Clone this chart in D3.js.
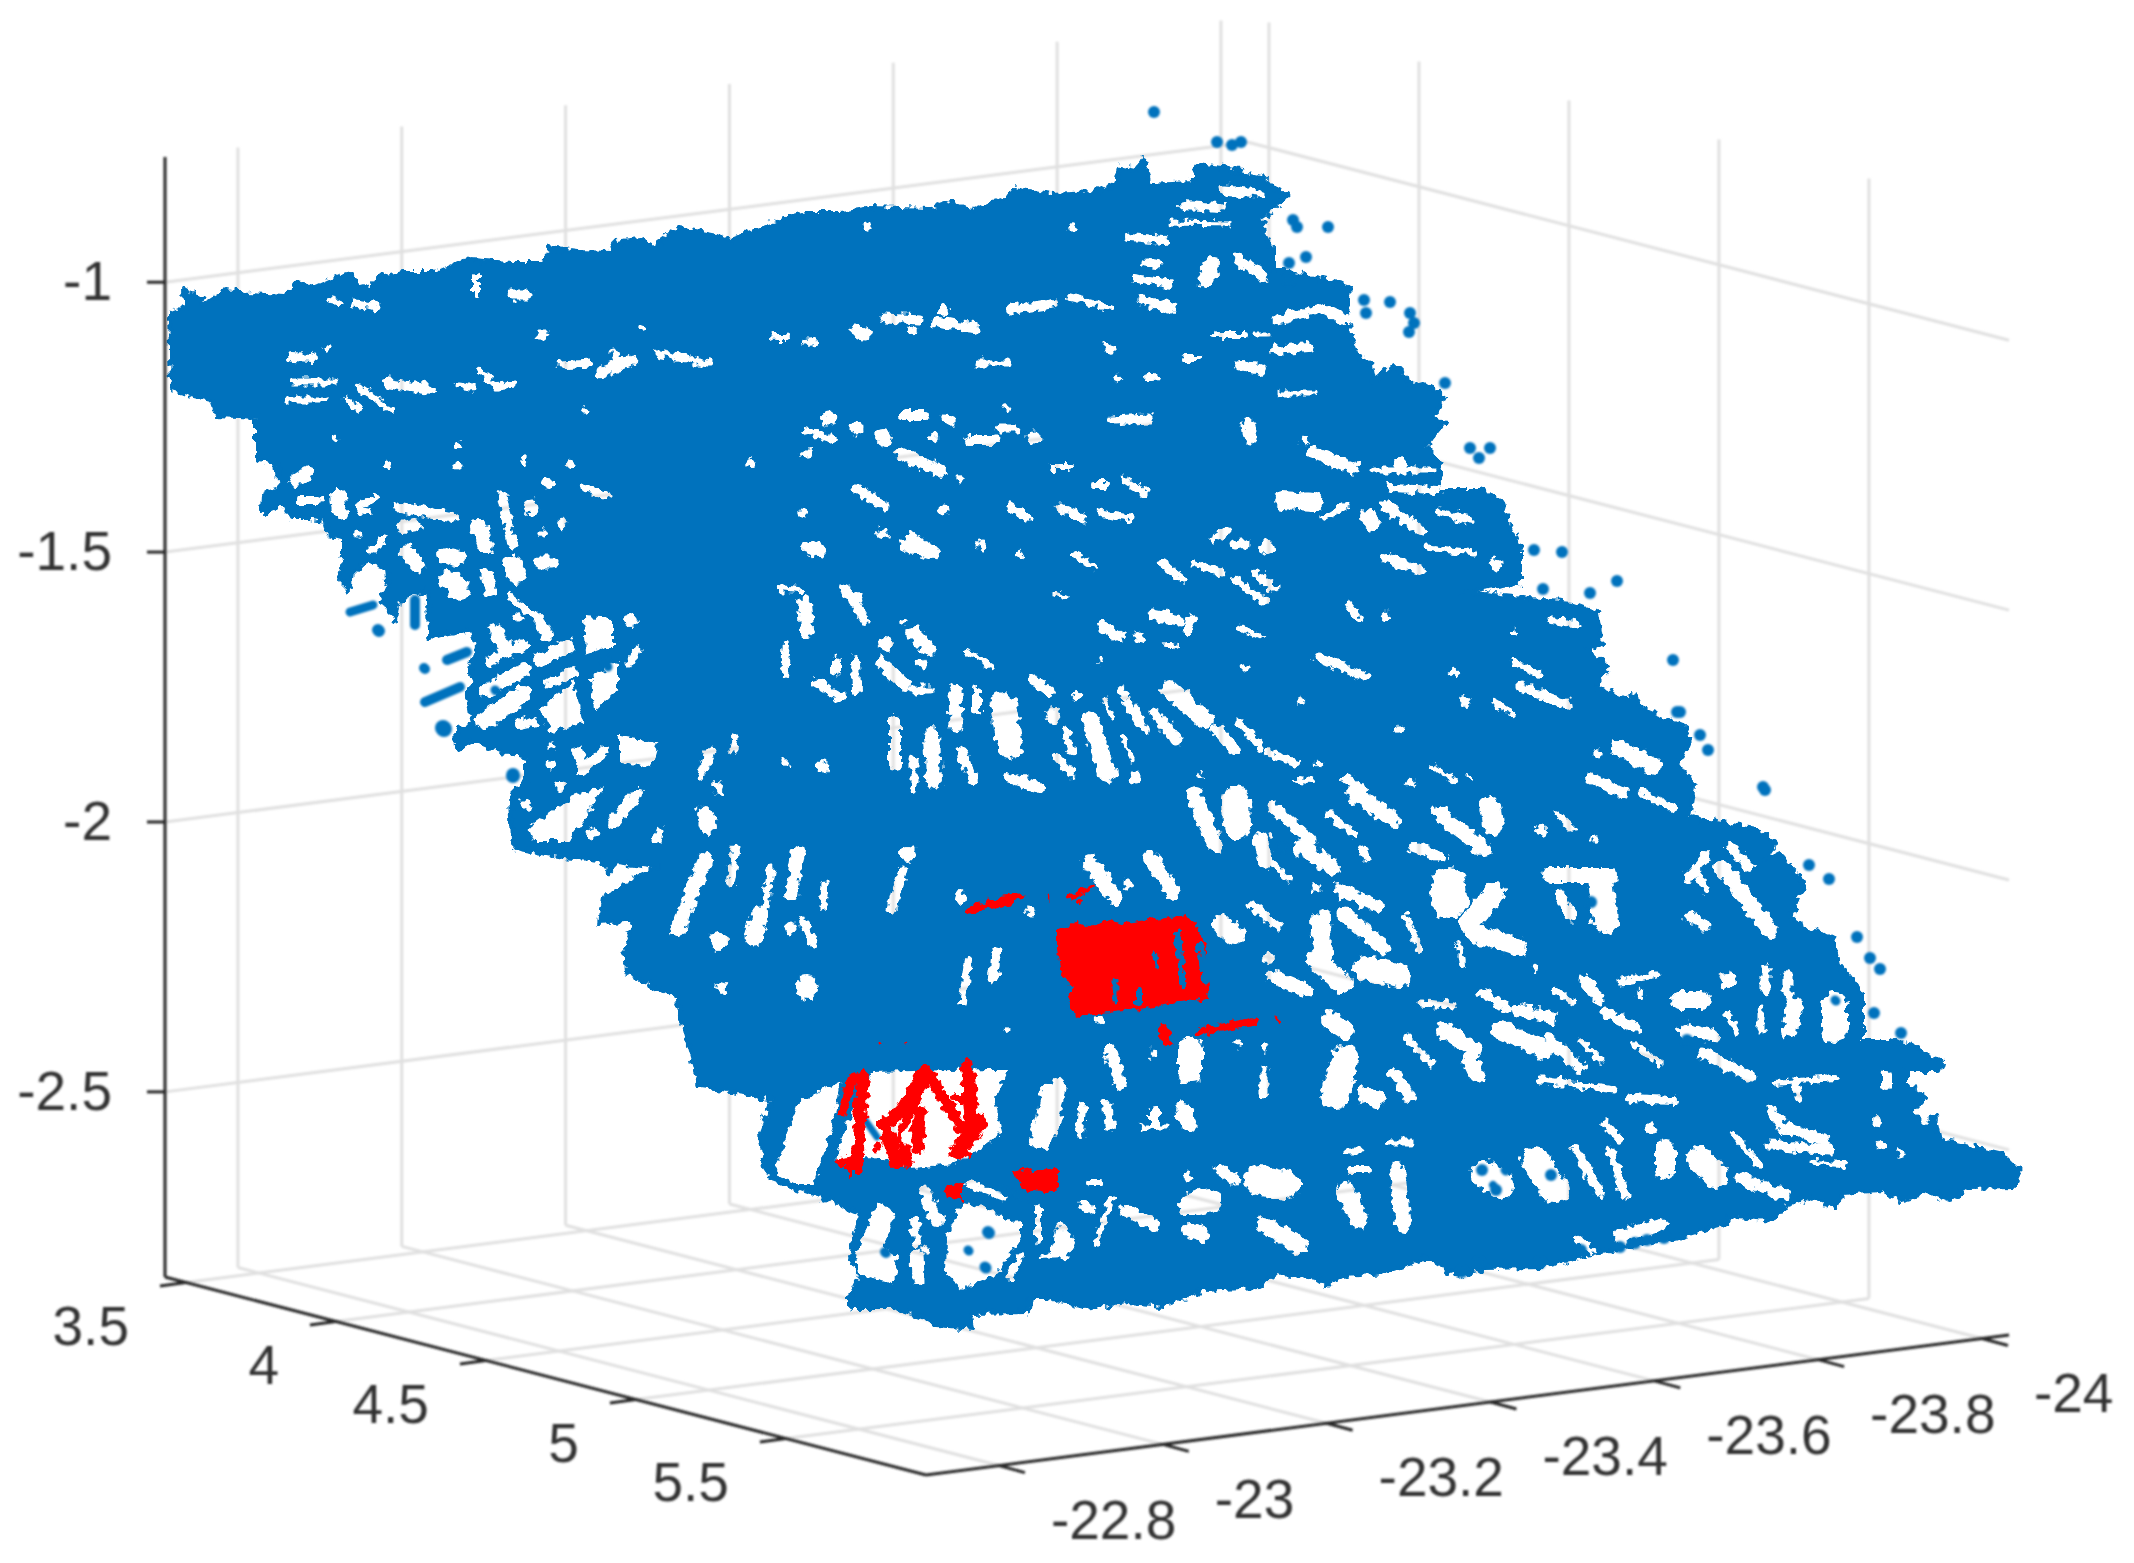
<!DOCTYPE html>
<html>
<head>
<meta charset="utf-8">
<script src="https://cdn.jsdelivr.net/npm/d3@7"></script>
<style>
  html, body { margin: 0; padding: 0; background: #fff; }
  text { font-family: "Liberation Sans", Arial, sans-serif; font-size: 55px; fill: #333; }
</style>
</head>
<body>
<div id="chart"></div>
<script>
// axis values
const xLim = [-22.711, -24.033];
const yLim = [3.43, 5.967];
const zLim = [-2.843, -0.768];
const xTicks = [-22.8, -23, -23.2, -23.4, -23.6, -23.8, -24];
const yTicks = [3.5, 4, 4.5, 5, 5.5];
const zTicks = [-1, -1.5, -2, -2.5];

// The cloud in the projected view plane (one unit = ten reference pixels).
// silhouette of the blue points
const cloudOutline = [
  [18.5,29],[20.6,30.3],[22.6,29],[25,29.5],[28.4,29.7],[29.7,28.2],[31.5,28.7],[34.6,27.3],[36.9,29],[37.8,27.7],
  [40.4,27.3],[43.6,27.3],[45.8,26.3],[47.1,26],[51.2,26.3],[54.3,26.3],[55,24.8],[57.9,25.2],[61,25.3],[61.4,24.3],
  [63.9,24],[65.2,24.7],[67.9,22.8],[71.7,23.5],[73,24],[76.4,22.7],[78.8,21.8],[80.6,21.3],[84,21.3],[87.1,20.8],
  [92.9,21],[95.2,20.2],[97.2,21],[99.2,20.2],[101,19.7],[101.4,18.8],[105,19.5],[109.5,19.3],[111.7,18.3],[112.1,16.7],
  [113.5,17],[114.4,15.8],[115,18.5],[119.3,18.3],[119.7,16.5],[122.4,16.8],[126.4,17.8],[127.3,18.8],[128.7,19.5],[127.3,21],
  [126.2,21.7],[126.4,23.3],[127.3,25],[127.3,27],[129.5,27.3],[134.9,28.7],[134.7,31.3],[134.9,33.3],[135.8,35.7],[137.1,36.3],
  [137.4,38.3],[139.4,36.5],[140.7,37.7],[140.9,38.7],[142.3,38.3],[144.5,39.7],[143.4,41.7],[144.5,42.2],[142.5,44.7],[144.1,46.3],
  [143.8,49],[147.9,49],[150,50],[151,52.7],[152,55],[152,58.3],[146.4,59.2],[157.1,60.3],[159.7,61.3],[160.2,64.3],
  [158.7,64.8],[160.7,66.7],[159.7,68.7],[162.8,70],[163.3,69.3],[164.3,71],[168.4,72.7],[168.9,74],[167.9,76.3],[169.4,78.7],
  [168.9,81.7],[176,83],[177.6,84.3],[176.5,86],[178,85.3],[180.4,88.3],[179,91.7],[180.7,93],[183.3,93.8],[183.8,96.3],
  [186.2,99.3],[186.2,104],[188.9,104],[191.6,104.7],[194.2,106.3],[194,107],[190.6,107],[190.6,108.3],[192.5,109.8],[191.1,111.3],
  [192.5,112.7],[193.5,111.7],[194,114],[200.3,115.5],[202,117.2],[201.3,118.7],[196.9,118.8],[195,120],[193,119.2],[190.1,120],
  [188.2,119],[184.3,119.3],[183.6,120.7],[180.9,119.7],[178.5,120.5],[177.3,122],[173.1,121.5],[172.7,122.3],[167.8,123.7],[161,125],
  [158.6,125.5],[154.2,126.7],[148.4,126.8],[146,127.7],[142.6,125.7],[138.7,127.2],[134.4,127.5],[132.7,128.5],[131.6,127.8],[127.6,127.3],
  [125.8,128.7],[120.4,129],[116.4,130.5],[112.9,130.2],[108.4,130.7],[104.8,129.7],[103,129.7],[102.7,131.2],[97,131.3],[97.3,132.8],
  [93.7,132.5],[92.3,131.7],[89.3,130.7],[85,130.7],[85,129.7],[86,127.7],[85,125.7],[86,121.3],[83,120],[77.3,118],
  [76.5,116.7],[76,113.3],[77.3,110],[74.5,109.3],[70,108.7],[67.6,100],[67.6,99.7],[62.7,97.3],
  [62.5,94.7],[63.6,92],[60,92.3],[60.4,89.7],[65.8,86.7],[61.8,86.2],[60.9,87.2],[60,86],[56.4,85.7],[51.5,84.8],
  [51.2,84],[51,79.7],[52.7,78],[52.7,75.7],[49.7,75],[47.3,74],[45.8,75],[45.7,73],[47.3,72.5],[47,70.7],
  [46.7,69.7],[47.5,68],[47,67.3],[47.7,64.7],[47.3,63],[43,63.7],[43,62.7],[42.7,59],[39.8,60],[39.5,62],
  [38.2,59.7],[38.8,58.3],[38.7,56.7],[36.7,56],[35.3,57.3],[35,59],[34,58],[34.3,55.7],[34.3,53.7],[32.7,53.3],
  [32.5,52],[31,51.8],[29,51.8],[28.3,50.3],[26.2,51.2],[26.3,49.5],[28,49],[27.7,46.3],[25.7,46],
  [25.7,41.7],[21.7,41.5],[21.2,40],[17.2,39],[17,31.3],[18.6,30.7]
];
// large holes in the cloud, as outlines
const cloudHoles = [
  [[57.3,68.3],[54,71],[55.2,73],[58.2,72.2]],
  [[58.5,61.8],[61.2,62],[61.2,64.7],[60.3,64.7],[58.7,65.3]],
  [[61.7,66.2],[61.7,69],[59.5,71],[59.2,68]],
  [[62,73.7],[65.7,74.3],[65,76.7],[62,76]],
  [[60.2,78.8],[57.3,79.7],[53,82.7],[53.5,84],[56.8,84],[58.7,81.3]],
  [[80,110.3],[84,108.3],[83,113],[81.3,118.3],[79.3,118.3],[77.7,117.3],[77.8,116.3]],
  [[87.3,107.3],[99,107],[100.7,107],[99.3,110],[100,113.3],[97.7,115],[95.3,116.3],[91.3,116.7],[87,115.7],[84,116.3],[83.8,115.3],[84.7,112.7],[85.7,110.7]],
  [[96.3,120.3],[99,121],[101,122.3],[102,122.2],[102,123.7],[101,125.3],[99.7,127.3],[96.3,128.8],[94.7,127.3],[94.8,123.7]],
  [[87.7,120.3],[89.3,121.2],[88.7,123.3],[88.3,124.7],[89.7,125.7],[89.3,128.3],[86,127.3],[85.7,125.7]],
  [[106,122.3],[107.5,124.3],[106.7,125.7],[103.7,125.8],[105,125.3]],
  [[106,107.8],[106.5,108.3],[105.7,113.3],[104.7,114.7],[103,114.5],[104.3,108.7]]
];
// gaps in the cloud: from x, from y, to x, to y, width
const cloudGaps = [
  [35.5,30.3,37.8,30.7,.5],[47.6,27.7,47.6,29.5,.4],[51.2,29.5,52.8,29.5,.7],[32.9,30,33.8,30.2,.4],[29.3,35.7,31.3,35.8,.8],[32.6,34.7,32.7,34.8,.5],
  [29.3,38.2,33.3,38.2,.5],[28.8,40,32.4,40,.5],[35.8,38.7,39.1,41,.4],[34.6,40,36,41,.4],[38.7,38.3,43.1,39,.8],[45.8,38.5,47.1,38.7,.5],
  [48,37.2,49.8,38.7,.4],[49.8,38.7,51.4,38.5,.5],[56.1,36.5,59,36.3,.5],[60.1,37.3,63.2,36,.9],[61.5,35.3,62,36.7,.7],[65.9,35.3,70.8,36.3,.5],
  [77.5,33.8,78.5,33.8,.6],[80.6,34.2,81.5,34.1,.4],[54,33.5,54.5,33.5,.5],[64.3,32.7,64.4,32.8,.5],[82.9,41.8,82.9,41.9,1.3],[80.6,43,83.3,44,.4],
  [81.1,54.8,81.8,55,1.4],[80.2,51.3,80.3,51.4,.5],[75,46,75.2,46.6,.4],[80.2,45.5,81,45.3,.4],[29.5,48,30.8,47.2,1],
  [33.8,49.5,34,51.2,1.4],[35.8,50.7,37.5,49.7,.4],[36,51,37,51.2,.4],[30,50,31.8,50,.6],[40,50.7,45.2,51.7,.8],[40.3,52.7,41.5,52.5,1],
  [47.8,52.7,48.5,54.5,1.4],[50.2,49.5,51.2,54.5,.7],[53.2,50.7,53.3,50.8,1.3],[54.8,48.3,54.9,48.4,.8],[58.3,48.8,60.8,49.5,.5],[56.2,52.3,56.3,52.4,.6],
  [54.2,53.2,54.3,53.3,.5],[54,56.3,55.2,56.3,1.1],[51.3,56.6,51.7,57.4,1.8],[48.7,57.5,49,59,1.1],[44.5,55.5,45.8,55.8,1.4],[44.8,58,46,59,1.8],
  [40.7,55.2,41.7,56.5,1.3],[37.2,55,38.5,53.7,.5],[35.8,53.3,35.9,53.4,.5],[51,59.7,54,62,.4],[54,62,54.7,63.5,1],[51.7,61.7,51.8,61.8,.5],
  [49.5,63,50.5,65,1.2],[49,66,52.3,64.5,.9],[48.7,69,52.3,67,1.2],[48.5,72,52.2,69.5,1.6],[54,66,56.8,64.5,1.2],[55,68.3,57.3,67.2,.8],
  [63.7,65,63,66.3,.7],[63,62,63.1,62.1,1],[52,72.5,53.3,72.2,.8],[57.7,75.2,58.1,76.2,1],[55.2,74.5,55.3,74.6,.5],[55,76.5,55.1,76.6,.7],
  [58.3,77,60.5,75,.8],[56,78.5,56.1,78.6,.8],[52.5,80.3,52.6,80.4,.8],[63.7,79.3,61.3,82.3,1],[59.3,83.3,59.4,83.4,.9],
  [70.5,81.5,70.8,82.5,1.6],[66,83,65.7,84,.5],[71.8,78.7,71.9,78.8,1],
  [71.1,75,70,77.7,.7],[80.5,60.3,80.7,63,1.2],[84.5,58.8,86.5,62,.8],[77.8,58.8,80,59,.4],[78.7,64.3,78.4,67.5,.4],[81.6,68.3,84,69.7,.8],
  [85.6,66,85.7,69,.6],[83.6,66,83.6,67.2,.6],[88.1,66.3,90.5,68.5,1],[91.3,63.3,93,65,1.2],[88.5,64.3,88.6,64.4,1.2],[92.1,66.3,92.2,66.4,.7],
  [91.5,69,93,69,.7],[90.3,62,90.4,62.1,.4],[96.8,65.2,99.2,66.7,.4],[95.5,69,95.6,72.7,1.1],[97.7,69,97.7,71,.6],[100.3,70.5,101,74.5,2.4],
  [89.5,72,89.5,76.5,1],[93.2,73.5,93.4,78,1.4],[91.4,76,91.4,79,.5],[96.1,75,97.3,78,.8],[101,77.7,103.7,78.7,.8],[82.3,76.7,82.4,76.8,.9],
  [78.5,76.3,78.6,76.4,.5],[73.5,73.7,73.3,75,.5],[90.8,85.3,90.9,85.4,1.4],[79.8,85,79.2,89.5,1],[73.5,85,73.1,88.3,.6],[70.5,86,67.7,93,1.2],
  [82.5,88.3,82.3,90.7,.5],[90.3,87,89.2,91,.7],[76,91.3,75.4,93.7,1.5],[77.1,86.7,76.5,90.7,.5],[79,92.7,79.1,92.8,.9],[80.3,92.3,81.4,94.3,.7],
  [71.8,94,71.9,94.1,1.6],[95.9,89.7,96,89.8,1],[80.7,98.7,80.8,98.8,2],[72,98.7,72.1,98.8,1],[96.8,96,96.3,100,.6],[99.7,95,99.3,98,.7],
  [94.3,51,94.4,51.1,.8],[88.1,53.3,88.2,53.4,.8],[91.2,53.8,93.4,55.3,1],[98.1,54.5,98.2,54.6,.7],[101.9,55.3,102,55.4,.6],[101.9,51.3,102,51.4,.6],
  [86.7,22.7,86.8,22.8,.5],[118.3,20.5,122,20.7,.8],[122.4,19,125.9,19.3,.7],[117,22.3,123,22.4,.3],[107.2,22.7,107.3,22.8,.5],[113,23.7,116.5,24,.6],
  [121.2,26.5,120.5,28,1.4],[123.9,26,126.2,27.5,.9],[113.5,27.8,117,28.3,.6],[114.5,26.3,116,26.5,.5],[127.7,32,132.2,30.8,.7],[132.2,30.8,134.5,32,.8],
  [127.5,35,130.8,34.7,.8],[114.3,30,117,30.8,.9],[106.8,29.7,111.2,30.8,.4],[101,31,105.4,30.3,.6],[93.8,32.3,97.4,32.7,.8],[88.5,31.8,92,32,.7],
  [91.2,33,91.3,33.1,.6],[85.5,33,86.5,33.5,.9],[94.3,31,94.4,31.1,.8],[97.8,36.3,100.7,36.3,.5],[110.6,34.7,111.2,35,.5],[118.5,35.8,120,35.8,.4],
  [121.5,33.5,124.5,33.5,.4],[125.5,33.5,126.8,33.5,.3],[124,36.5,126.2,37,.8],[114.8,37.7,115.5,37.7,.6],[111.7,37.8,111.8,37.9,.6],[128,39.3,131.5,39.3,.3],
  [85.6,42.8,85.7,42.9,1.1],[88.3,43.7,88.4,43.8,1.4],[90.5,41.5,92.5,41.5,.8],[94.5,41.8,95.2,42.2,.5],[97,44,99.4,44,.8],[100,42.8,101.5,42.8,.7],
  [103.4,43.7,103.5,43.8,1.1],[93.4,43.8,93.5,43.9,.6],[100.7,40.8,100.8,40.9,.5],[111.2,42,114.8,41.8,.7],[124.8,42.5,125,43.8,1.1],[130.4,44,130.5,44.1,.6],
  [131.3,45.3,135.3,46.8,1.1],[137.3,47,143.3,47,.5],[140,46.3,140.1,46.4,1],[139.1,48.8,143.8,49,.6],[128.2,50,131.5,50.2,1.6],[136.8,51.8,137.2,52.2,1.4],
  [132.6,51.7,134.6,50.5,.5],[138.5,50.5,142,53,.8],[144,51.2,147,52,.7],[138.5,55.7,142,57,.8],[142.7,54.7,147.5,55.3,.5],[149.5,56.3,149.6,56.4,1.1],
  [90,45.3,94,47.2,1],[96,47.8,96.1,47.9,.5],[85.6,48.8,88.5,50.7,.7],[94.3,51,94.4,51.1,.9],[101,50.7,102.8,51.7,.5],[106,50.8,108.2,51.8,.7],
  [110,51.3,113,51.8,.5],[109.5,48.5,110.5,48.5,.6],[112.5,48,114.5,49.3,.5],[105.2,46.7,107,46.7,.4],[121.2,54,122.8,53,.5],[123.5,54.5,124.5,54.3,.7],
  [126.6,54.7,126.7,54.8,1.2],[88.3,53.3,88.4,53.4,.8],[90.5,54.5,93,55.3,1],[107.5,55.5,109.5,56.7,.4],[116.1,56.3,118.4,58,.5],[119.5,56.3,122.2,57.3,.5],
  [125.5,57.3,127.3,58.8,.7],[123.5,58,125.5,59.7,.3],[105.5,59.3,106.5,59.7,.3],[85,59.3,86,59.7,.5],[123.5,58,126.8,60.3,.4],[115.3,61.5,117.8,62,.9],
  [119.1,62,118.7,63,.8],[110.2,62.5,112,63.7,.8],[113.8,63.8,113.9,63.9,.8],[116.5,64.5,117.5,64.5,.4],[124,62.7,126,63.7,.4],[134.7,60.3,136,62,.4],
  [138.5,61.7,138.6,61.8,.6],[131.9,65.7,136.5,67.7,.7],[124.5,66.7,124.6,66.8,.5],[145.4,67.3,145.5,67.4,.6],[151.3,66.2,154,67.5,.4],[152,68.7,156.9,70.5,.7],
  [146.4,70,146.5,70.1,1],[149.5,70.3,151.2,71.3,.4],[155.1,62,157.6,62.5,.5],[151.5,63.2,151.6,63.3,.4],[117,69,120.5,72,1.6],[105.3,71.5,105.4,71.6,1.4],
  [112.8,70.3,114.5,73,.8],[115.5,71.3,117.6,74,.9],[109,72,110.7,77.3,1.6],[106.5,73,107.1,75,.6],[110.5,70,111.2,71.7,.3],[103.3,68,105,69.2,.7],
  [112.2,69.2,112.3,69.3,1],[107.6,69.5,107.7,69.6,.6],[121.7,73,123.5,75,1],[124,72.3,126,74.7,.5],[126.8,75.3,129.6,76.3,.6],[131.8,76.3,131.9,76.4,.6],
  [161.7,74.7,165.5,76.7,1.4],[159,77.7,162.2,79.3,.8],[164.3,79.3,167.3,80.8,.6],[159.7,75.3,159.8,75.4,.5],[105.6,75.5,107.1,77.3,.6],[112.2,73.7,113.3,76,.3],
  [100.8,77.8,104,78.8,.8],[113.4,77.7,113.5,77.8,.7],[129.8,78,131.1,78.1,.4],[134.5,77.8,136.5,79,.6],[141,78.3,141.1,78.4,.6],[143.3,76.7,145.4,78,.4],
  [147,77.7,147.1,77.8,.3],[135.4,79.3,139.3,82,1.4],[123.6,80,123.7,82.5,2.6],[119.5,79.5,121.5,84.5,1.4],[127.3,80.7,131.1,84,.9],[130.1,84.7,133.2,86.7,1.4],
  [126,84,126.5,86,1.2],[126.5,85.7,129,88,.5],[133,81.5,135.5,83.5,.5],[136.2,84.7,136.7,86,.5],[141.3,84.7,144.4,85.8,.8],[143.9,81.3,148.4,85,1.2],
  [149,80.5,149.3,82.5,1.8],[155.6,81.3,157.4,83,.5],[154,83,154.1,83.1,.8],[159.4,83.8,159.5,83.9,.5],[173,84.7,175,86.7,.8],[168.9,87.7,170.6,85.7,.8],
  [170,87.7,170.5,89,.5],[172.2,86.7,177,93,1.4],[169,91.7,170.5,92.5,.9],[144.8,88.5,144.9,90,3.4],[149.4,89.3,147,92.3,2],[147.5,93.3,151.8,94.7,1.6],
  [155,87.5,161,87.5,1.4],[160,88,160.5,92,2.4],[156,89.5,157,91.5,.9],[133.9,89,137.8,90.7,1],[131.6,88.7,131.7,88.8,.8],[115,85.7,117.3,89.3,1.2],
  [112.8,88.3,112.9,88.4,.7],[109,86.3,111.5,89.7,1.4],[103,91,103.1,91.1,.7],[122.2,92.5,123.4,93.5,1.8],[131.5,92,132,95.5,1],[125.2,90.5,127.8,92.7,.7],
  [127.5,97.7,130.6,99,1.2],[131.6,96,134.2,98.3,1.8],[136.5,96.8,140,97.5,2.2],[126.8,95.7,126.9,95.8,1],[140.5,91.5,142,95,.4],[145.9,94.5,146.2,96.5,.4],
  [153.5,96.7,153.6,96.8,.4],[132.5,91.5,132.6,95.6,1],[134.5,91.5,138.3,94.7,1.3],[172.7,98,172.8,98.1,1.4],[176.6,97,176.6,99,.7],[178.8,97.5,178.8,99.5,.7],
  [168,100,170.2,100,1.6],[168.5,103,171.2,103.5,1.2],[179.5,100.5,179,103,1.4],[183.5,100.5,183.5,103,2.4],[172.7,101.3,173.7,103.3,.5],[176.1,101,176.1,103,.5],
  [162,98.2,165.6,97.5,.5],[164,99.5,164.1,99.6,.6],[158.4,98,160,100,.9],[160.6,101.3,163.5,102.7,.9],[155.7,99,157.2,100.3,.4],[148.2,99.3,150.6,100.7,.8],
  [151.6,101,155.2,101.7,1],[142.1,100.3,145.3,100.5,.5],[150,103,154.5,105,1.6],[155,104,158,106.7,1],[158.1,104,160,106,.5],[163.5,104.5,166,106.3,.5],
  [170.3,105.3,175.1,107.7,.9],[144.5,103,147.5,105,1.4],[147,106,147.7,107.5,1.4],[139.5,107.3,141,109.7,1],[136.6,109.5,137.8,110,1.4],[134.5,106,133.5,109.5,2.6],
  [133,102,134.5,103,1.6],[140.5,103.7,143.1,106.3,.5],[154.2,108,161.5,109,.5],[163,109.8,167.3,110,.6],[177.5,108.3,183.5,107.8,.4],[179.5,108.5,180,110,.5],
  [177,111,178.5,113,.8],[178.5,112.8,182.5,114,1],[187.7,112,187.8,112.1,.8],[188.7,107.5,188.7,108.5,.8],[165,112.8,165.1,112.9,.7],[160.6,112.3,162,114,.5],
  [166.5,115,166.5,117,1.8],[170,116,171.5,117.5,2.4],[161,115,162.5,119.5,.7],[157.6,115,160,119.3,.8],[153.5,116,155.5,119,2.6],[148.5,117.5,150,118.5,2.6],
  [134.5,119,136,122,1.6],[139.7,117,140.3,122.5,1.4],[135,115,136,115,.5],[135,117,136.8,117,.6],[139,114.3,141,114.3,.5],[173.2,113.3,176,116.5,.4],
  [190,115.2,190.1,115.3,.5],[188,114.5,188.1,114.6,.6],[174,117.8,178.5,119.5,.9],[177,114.5,183,115,.7],[181,116.2,184.5,116.5,.3],[158,124,159,125,.6],
  [162,123.7,166,122.5,1.2],[122.1,117,123.5,118,.9],[118.8,117.7,118.9,117.8,.7],[126,118,128.5,118.5,2.8],[119,120.5,121,120,2.2],[119,123,120.5,123.5,1.2],
  [126.5,122.5,130,124.5,1.6],[112.4,121,115.5,122.5,1],[108.3,120.5,109,121,.7],[109,118.2,110,118.2,.4],[111.2,119.8,109.7,124.3,.4],[102,125.7,101,127.7,.5],
  [103.8,120.7,103.8,124,.4],[96.7,118.3,100.3,119.7,.5],[92.5,119.2,93.7,122,1],[91.5,122,91.7,124.3,.6],[91.7,125.5,91.8,128,.9],[92.5,125,92.6,125.1,.5],
  [105.5,108.5,104,114,.2],[111,105,112,108.3,1],[110.7,110.5,111,112.7,.8],[108.2,110.7,108,113.3,.6],[119,105,119,107.2,2.2],[114.3,112.7,116.5,112.7,.3],[115.5,111,115.5,112.5,.8],
  [118.3,111,119,112.5,1.4],[115.3,105.3,115.4,105.4,.6],[126.4,107,126.4,109.3,.5],[126.4,104.7,126.5,104.8,.5],[123.7,104.3,123.8,104.4,.5],
  [33.5,43.8,33.6,43.9,.4],[45.7,44.5,45.8,44.6,.4],[45.7,46.5,45.8,46.6,.5],[38.7,46.5,38.8,46.6,.4],[57,46.5,57.1,46.6,.4],[52.3,46,52.4,46.1,.4],[58.5,41,58.6,41.1,.3],
  [110,102,110.1,102.1,.4],[100.7,103,100.8,103.1,.3],[127,83.5,127.1,83.6,.3],[120,77.5,120.1,77.6,.3],[110,66,110.1,66.1,.4],[130,70,130.1,70.1,.4],[140,73,140.1,73.1,.4]
];
// isolated blue points: view x, view y
const strayX = [115.4,121.7,123.2,124.1,129.3,129.7,132.8,130.6,128.9,128.9,136.4,139,136.6,141,141.4,140.9,144.5,147,149,147.9,153.4,156.2,161.7,154.3,159,167.3,167.7,168,170,170.8,176.3,176.5,180.9,182.9,185.7,187,188,187.4,190.1,146.2,147.9,154,158.1,162,163.5,164.7,166.4,159.1,155.1,148.2,149.6,168.7];
const strayY = [11.2,14.2,14.5,14.2,22,22.7,22.7,25.7,26.3,28,30,30.2,31.3,31.3,32.3,33.2,38.3,44.8,44.8,45.8,55,55.2,58.1,58.9,59.3,66,71.2,71.2,73.5,75,78.7,79,86.5,87.9,93.7,95.8,96.9,101.3,103.3,127.2,126.3,126.3,125,124.7,124.3,124,123.8,90.2,117.5,117,119,104];
// short blue runs of points, on top of the holes: from x, from y, to x, to y, width
const blueStrands = [
  [35,61.2,37.3,60.5,.9],[37.8,63,37.9,63.1,1.2],[41.5,60,41.5,62.5,1],[44.7,66,46.7,65.2,1],[42.5,70.2,46,68.7,1],[42.4,66.8,42.5,66.9,1],
  [44.3,72.8,44.4,72.9,1.6],[51.3,77.5,51.3,77.6,1.4],[49.5,69,49.6,69.1,.9],[60.3,65.5,60.8,66.7,.9],[86.5,112,87.7,113.7,.7],
  [98.8,123.2,98.9,123.3,1.2],[96.8,125,96.9,125.1,.9],[98.5,126.7,98.6,126.8,1.1],[88.5,125.2,88.6,125.3,1],[100,118.9,103.5,120,.6],
  [150.5,117,150.6,117.1,.9],[149.3,118.5,149.4,118.6,.8],[159.1,90.2,159.2,90.3,.9],[168.1,102,168.2,102.1,.8],[183.5,100,183.6,100.1,.9],[128.2,84.7,128.3,84.8,.9]
];
// red points, patches as outlines
const redPatches = [
  [[105.7,93.2],[107.7,92],[108.8,92.7],[111,92],[112.4,92.3],[118.8,91.5],[120.6,94.2],[120.4,96],[120.8,99.8],[114.6,100.8],[107.9,101.7],[106.6,100.7],[107.2,98.7],[106.1,97.3],[105.7,95]],
  [[101.2,117.2],[103,116.8],[103.3,117.2],[104.7,116.7],[105.8,116.8],[105.8,119],[104.5,119.2],[103.5,119],[102.7,119.3],[101.5,118]],
  [[94.3,119.2],[94.7,118.5],[96.3,118.2],[96.3,120],[95,119.7]]
];
// streaks inside the patches where the points thin out
const redGaps = [[117.7,93.3,118.4,98.7,.4],[111.5,98,111.5,100,.3],[113.9,99,113.9,100.3,.4],[120,94.5,120.4,98,.4],[106.2,101,106.8,101.8,1.2],[115.5,95.5,115.6,96.5,.3]];
// red strokes: from x, from y, to x, to y, width
const redStrokes = [
  [97,91,101.5,89.7,.7],[100,89.8,102,89.7,.5],[107,89.7,109.2,88.7,.5],[104.8,89.7,104.9,89.8,.3],[97.2,91,101.2,90.3,.5],[107.9,90.1,108,90.2,.4],
  [120,103.2,125.8,102,.7],[127.8,102,127.9,102.1,.4],[116.4,103,116.7,104.3,1],[88.1,104.3,88.2,104.4,.3],[90.5,104.2,90.6,104.3,.3],
  [86.3,107.5,85.7,116.7,1.2],[85.3,107.8,84.2,111.2,.9],[84,116.2,85.7,116,.8],[85,116.5,85,117.7,.4],[87.7,114.5,87.8,114.6,.9],
  [92.5,107.5,90.5,111,1.8],[93,107.7,96.3,113,1.1],[96.7,106.7,97.2,112.3,1.4],[95.5,109.8,96.2,109.8,.8],[98,112.3,95.7,115.3,1.6],[96.7,115.3,96.8,115.4,.8],
  [91,110.7,88.3,112.3,1.2],[88.3,112.3,89.7,116.3,1.2],[92,111.3,91.7,114.7,1.4],[90.3,114.7,90.8,116.5,1],[90.7,111.7,89.3,115,.8]
];

const width = 2134, height = 1563;

const svg = d3.select("#chart").append("svg")
  .attr("width", width)
  .attr("height", height);

// projected position of a data point in the 3-d box
const alongX = d3.scaleLinear().domain(xLim).range([0, 1083]);
const alongY = d3.scaleLinear().domain(yLim).range([0, 761]);
const upZ = d3.scaleLinear().domain(zLim).range([0, 1120]);

function project(x, y, z) {
  const a = alongX(x), b = alongY(y);
  return [165 + a + b, 1277 - a * 140 / 1083 + b * 198 / 761 - upZ(z)];
}

function seg(g, p, q) {
  g.append("line")
    .attr("x1", p[0]).attr("y1", p[1])
    .attr("x2", q[0]).attr("y2", q[1]);
}

const defs = svg.append("defs");
defs.append("filter").attr("id", "soft")
  .append("feGaussianBlur").attr("stdDeviation", 0.9);

// rough edges for the point cloud
const rough = defs.append("filter").attr("id", "rough")
  .attr("filterUnits", "userSpaceOnUse")
  .attr("x", 0).attr("y", 0).attr("width", width).attr("height", height);
rough.append("feTurbulence")
  .attr("type", "fractalNoise")
  .attr("baseFrequency", 0.14)
  .attr("numOctaves", 2)
  .attr("seed", 4)
  .attr("result", "noise");
rough.append("feDisplacementMap")
  .attr("in", "SourceGraphic")
  .attr("in2", "noise")
  .attr("scale", 11)
  .attr("xChannelSelector", "R")
  .attr("yChannelSelector", "G")
  .attr("result", "moved");
rough.append("feGaussianBlur")
  .attr("in", "moved")
  .attr("stdDeviation", 0.7);

// grid on the back walls and the floor
const grid = svg.append("g")
  .attr("stroke", "#e0e0e0")
  .attr("stroke-width", 3)
  .attr("filter", "url(#soft)");

xTicks.forEach(function (t) {
  seg(grid, project(t, yLim[0], zLim[0]), project(t, yLim[0], zLim[1]));
  seg(grid, project(t, yLim[0], zLim[0]), project(t, yLim[1], zLim[0]));
});
yTicks.forEach(function (t) {
  seg(grid, project(xLim[1], t, zLim[0]), project(xLim[1], t, zLim[1]));
  seg(grid, project(xLim[0], t, zLim[0]), project(xLim[1], t, zLim[0]));
});
zTicks.forEach(function (t) {
  seg(grid, project(xLim[0], yLim[0], t), project(xLim[1], yLim[0], t));
  seg(grid, project(xLim[1], yLim[0], t), project(xLim[1], yLim[1], t));
});

// cloud scales, reference view plane to the page
const viewX = d3.scaleLinear().domain([0, 213.4]).range([0, width]);
const viewY = d3.scaleLinear().domain([0, 156.3]).range([0, height]);
const viewW = d3.scaleLinear().domain([0, 1]).range([0, 10]);
const outline = d3.line().x(d => viewX(d[0])).y(d => viewY(d[1])).curve(d3.curveLinearClosed);

function drawSegs(g, rows, color, extra) {
  g.selectAll("line").data(rows).enter().append("line")
    .attr("x1", d => viewX(d[0])).attr("y1", d => viewY(d[1]))
    .attr("x2", d => viewX(d[2])).attr("y2", d => viewY(d[3]))
    .attr("stroke", color)
    .attr("stroke-linecap", "round")
    .attr("stroke-width", d => viewW(d[4]) + extra);
}

function makeMask(id, gaps, holes) {
  const m = defs.append("mask").attr("id", id)
    .attr("maskUnits", "userSpaceOnUse")
    .attr("x", 0).attr("y", 0).attr("width", width).attr("height", height);
  m.append("rect").attr("width", width).attr("height", height).attr("fill", "#fff");
  m.selectAll("path").data(holes).enter().append("path")
    .attr("d", outline)
    .attr("fill", "#000")
    .attr("stroke", "#000")
    .attr("stroke-width", 2);
  drawSegs(m, gaps, "#000", 2);
}
makeMask("cloudMask", cloudGaps, cloudHoles);
makeMask("redMask", redGaps, []);

const cloud = svg.append("g").attr("filter", "url(#rough)");

cloud.append("g").attr("mask", "url(#cloudMask)")
  .append("path")
  .datum(cloudOutline)
  .attr("d", outline)
  .attr("fill", "#0072BD")
  .attr("stroke", "#0072BD")
  .attr("stroke-width", 4)
  .attr("stroke-linejoin", "round");

// loose points keep their round shape
const loose = svg.append("g").attr("filter", "url(#soft)");

drawSegs(loose.append("g"), blueStrands, "#0072BD", 0);

loose.append("g").selectAll("circle")
  .data(d3.zip(strayX, strayY))
  .enter().append("circle")
  .attr("cx", d => viewX(d[0]))
  .attr("cy", d => viewY(d[1]))
  .attr("r", 6)
  .attr("fill", "#0072BD");

const red = svg.append("g").attr("filter", "url(#rough)");
red.append("g").attr("mask", "url(#redMask)")
  .selectAll("path").data(redPatches).enter().append("path")
  .attr("d", outline)
  .attr("fill", "#ff0000");
drawSegs(red.append("g"), redStrokes, "#ff0000", 0);

// axes
const axes = svg.append("g")
  .attr("stroke", "#262626")
  .attr("stroke-width", 3)
  .attr("filter", "url(#soft)");

seg(axes, project(xLim[0], yLim[0], zLim[0]), project(xLim[0], yLim[0], zLim[1]));
seg(axes, project(xLim[0], yLim[0], zLim[0]), project(xLim[0], yLim[1], zLim[0]));
seg(axes, project(xLim[0], yLim[1], zLim[0]), project(xLim[1], yLim[1], zLim[0]));

const labels = svg.append("g").attr("filter", "url(#soft)");

function label(p, dx, dy, anchor, t) {
  labels.append("text")
    .attr("x", p[0] + dx)
    .attr("y", p[1] + dy)
    .attr("dy", "0.35em")
    .attr("text-anchor", anchor)
    .text(t);
}

xTicks.forEach(function (t) {
  const p = project(t, yLim[1], zLim[0]);
  seg(axes, p, [p[0] + 26, p[1] + 7]);
  label(p, 52, 54, "start", t);
});
yTicks.forEach(function (t) {
  const p = project(xLim[0], t, zLim[0]);
  seg(axes, p, [p[0] - 26, p[1] + 3.5]);
  label(p, -57, 43, "end", t);
});
zTicks.forEach(function (t) {
  const p = project(xLim[0], yLim[0], t);
  seg(axes, p, [p[0] - 18, p[1]]);
  label(p, -53, -1, "end", t);
});
</script>
</body>
</html>
